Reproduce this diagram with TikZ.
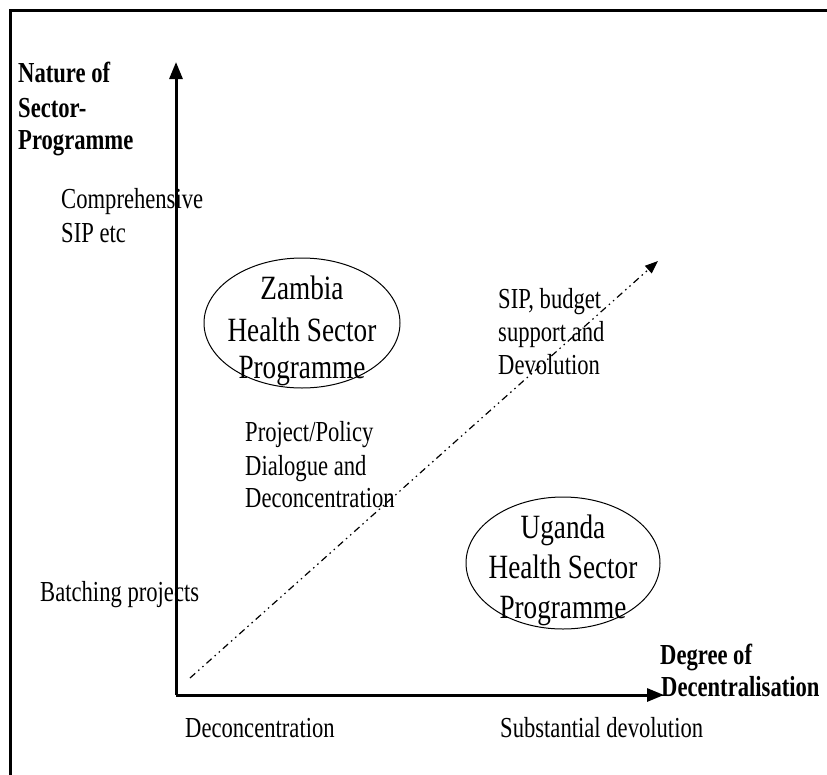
\documentclass[tikz,border=0pt]{standalone}
\usepackage{fontspec}
\setmainfont{Liberation Serif}[FakeStretch=0.78]
\newfontfamily\ellfont{Liberation Serif}[FakeStretch=0.8]
\usetikzlibrary{arrows.meta}
\tikzset{
  txt/.style={anchor=base west, inner sep=0pt, font=\fontsize{29}{33}\selectfont},
  boldtxt/.style={anchor=base west, inner sep=0pt, font=\fontsize{29}{33}\selectfont\bfseries},
  elltxt/.style={anchor=base, inner sep=0pt, font=\ellfont\fontsize{34}{38}\selectfont},
  axis/.style={line width=3pt, -{Triangle[length=17pt,width=13pt]}},
  frameline/.style={line width=3pt},
  diag/.style={line width=1.2pt, dash pattern=on 7pt off 4pt on 1.5pt off 4pt on 1.5pt off 4pt, -{Triangle[length=13pt,width=10pt]}},
  ell/.style={line width=1pt}
}
\begin{document}
\begin{tikzpicture}[x=1pt,y=-1pt]
\useasboundingbox (0,0) rectangle (827,774);
% frame (partly outside the page)
\draw[frameline] (10,780) -- (10,10) -- (830,10);
% axes
\coordinate (O) at (176,695);
\coordinate (ytip) at (176,62);
\coordinate (xtip) at (664,695);
\draw[axis] (O) -- (ytip);
\draw[axis] (O) -- (xtip);
% diagonal
\coordinate (ds) at (190,678);
\coordinate (de) at (658,261);
\draw[diag] (ds) -- (de);
% ellipses
\coordinate (zc) at (302,323);
\coordinate (uc) at (563,563);
\draw[ell] (zc) ellipse (98 and 65);
\draw[ell] (uc) ellipse (97 and 66);
% axis titles
\node[boldtxt] (n1) at (18,82) {Nature of};
\node[boldtxt] (n2) at (18,117) {Sector-};
\node[boldtxt] (n3) at (18,149) {Programme};
\node[boldtxt] (d1) at (660,664) {Degree of};
\node[boldtxt] (d2) at (661,696) {Decentralisation};
% y-axis labels
\node[txt] (c1) at (61,208) {Comprehensive};
\node[txt] (c2) at (61,242) {SIP etc};
\node[txt] (b1) at (40,601) {Batching projects};
% x-axis labels
\node[txt] (x1) at (185,737) {Deconcentration};
\node[txt] (x2) at (500,737) {Substantial devolution};
% diagonal labels
\node[txt] (p1) at (245,441) {Project/Policy};
\node[txt] (p2) at (245,475) {Dialogue and};
\node[txt] (p3) at (245,507) {Deconcentration};
\node[txt] (s1) at (498,308) {SIP, budget};
\node[txt] (s2) at (498,341) {support and};
\node[txt] (s3) at (498,374) {Devolution};
% ellipse texts
\node[elltxt] (z1) at (302,299) {Zambia};
\node[elltxt] (z2) at (302,341) {Health Sector};
\node[elltxt] (z3) at (302,378) {Programme};
\node[elltxt] (u1) at (563,538) {Uganda};
\node[elltxt] (u2) at (563,578) {Health Sector};
\node[elltxt] (u3) at (563,618) {Programme};
\end{tikzpicture}
\end{document}
